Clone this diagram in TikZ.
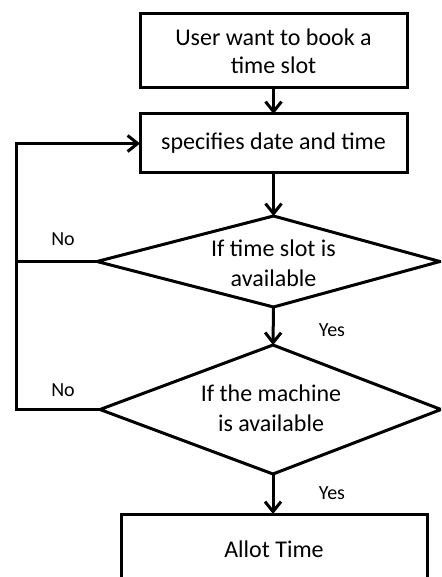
\documentclass[tikz,border=0pt]{standalone}
\usepackage{fontspec}
\setmainfont{Carlito}
\usetikzlibrary{arrows.meta}
\begin{document}
\begin{tikzpicture}[x=1pt,y=-1pt,
  line width=3pt,
  every node/.style={inner sep=0pt, outer sep=0pt},
  boxnode/.style={draw, rectangle, align=center, font=\fontsize{24}{28}\selectfont},
  dectext/.style={align=center, font=\fontsize{24}{30}\selectfont},
  lbl/.style={font=\fontsize{20}{24}\selectfont},
  arr/.style={-{Straight Barb[length=10pt,width=16pt,line width=3pt]}}
]
\useasboundingbox (0,0) rectangle (441,577);
\clip (0,0) rectangle (441,577);
\node[boxnode, minimum width=267pt, minimum height=74pt] (b1) at (273.5,51) {User want to book a\\time slot};
\node[boxnode, minimum width=267pt, minimum height=59pt] (b2) at (273.5,143.5) {specifies date and time};
% decision 1
\coordinate (d1n) at (273.5,216);
\coordinate (d1e) at (440,261.5);
\coordinate (d1s) at (273.5,307);
\coordinate (d1w) at (97,261.5);
\draw[line join=miter] (d1n) -- (d1e) -- (d1s) -- (d1w) -- cycle;
\node[dectext] (d1) at (273.5,263) {If time slot is\\available};
% decision 2
\coordinate (d2n) at (273,345);
\coordinate (d2e) at (441,409.5);
\coordinate (d2s) at (273,474);
\coordinate (d2w) at (100,409.5);
\draw[line join=miter] (d2n) -- (d2e) -- (d2s) -- (d2w) -- cycle;
\node[dectext] (d2) at (271,408.5) {If the machine\\is available};
\node[boxnode, minimum width=306pt, minimum height=70pt] (b3) at (274,549) {Allot Time};
\coordinate (L0) at (16,143.5);
\coordinate (L1) at (16,261.5);
\coordinate (L2) at (16,409.5);
\draw[arr] (b1) -- (b2);
\draw[arr] (b2) -- (d1n);
\draw[arr] (d1s) -- (d2n);
\draw[arr] (d2s) -- (d2s |- b3.north);
\draw (d1w) -- (L1);
\draw[arr] (d2w) -- (L2) -- (L0) -- (b2.west);
\node[lbl] (n1) at (63,239) {No};
\node[lbl] (n2) at (63,390) {No};
\node[lbl] (y1) at (332,330) {Yes};
\node[lbl] (y2) at (332,493) {Yes};
\end{tikzpicture}
\end{document}
